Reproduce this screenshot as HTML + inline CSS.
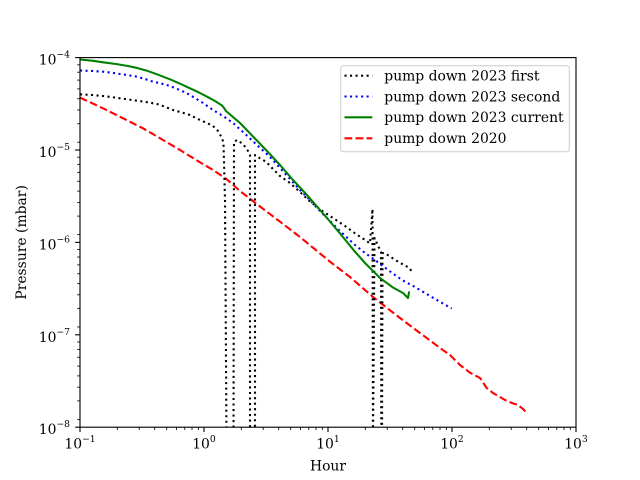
<!DOCTYPE html>
<html>
<head>
<meta charset="utf-8">
<style>
  html, body { margin: 0; padding: 0; background: #ffffff; }
  svg { display: block; }
  text { font-family: "DejaVu Serif", "Liberation Serif", serif; fill: #000; }
</style>
</head>
<body>
<svg width="640" height="480" viewBox="0 0 640 480" xmlns="http://www.w3.org/2000/svg">
  <rect x="0" y="0" width="640" height="480" fill="#ffffff"/>
  <defs>
    <clipPath id="ax">
      <rect x="80" y="57.6" width="496" height="369.6"/>
    </clipPath>
  </defs>

  <!-- data series -->
  <g clip-path="url(#ax)" fill="none" stroke-width="2.08" stroke-linejoin="round">
    <!-- red 2020 -->
    <polyline stroke="#ff0000" stroke-dasharray="7.7 3.33" stroke-linecap="butt"
      points="80,97.5 83,99 103,108.3 123,118.3 143,128.3 163,140 180,150 197,160.5 213,170 227,179.5 240,191 260,206.5 280,221.7 300,237 330,261.7 350,277 373,297 400,318 420,333 440,348 450,355 460,365 470,372.7 480,378 486.7,388 493,393 500,397 505,400 512,403 518,405 523,409 527,413"/>
    <!-- black first -->
    <polyline stroke="#000000" stroke-dasharray="2.08 3.44" stroke-linecap="butt"
      points="80,94.3 92,95 103,96 112,97.1 120,98.3 128,99.4 137,100.7 147,102.2 157,104 165,106.8 173,110 182,112.5 190,115 200,120 207,123 213,126 218,131 222,138 223.5,143 225,200 226.5,440 233.5,440 234,142 237,140 243,144 248,151 250,155 250,440 255,440 255,155 260,158.3 266,161.7 273,169 280,176 290,183 300,192 310,201.5 323,211.5 333,218 345,226 355,233.3 365,240 370,243.3 372.5,209 373,440 374.5,238 381,252 381.3,440 382,440 382.5,253 385,253.3 398,261.7 410,268.3 412,273"/>
    <!-- blue second -->
    <polyline stroke="#0000ff" stroke-dasharray="2.08 3.44" stroke-linecap="butt"
      points="80,70.5 92,71 103,71.7 112,72.7 120,74 128,75.2 137,76.7 145,79 153,81.7 162,83.7 170,86 178,89.3 187,93.3 195,98 203,103 213,110 223,116 233,123 243,132 257,145 270,157 280,168 290,179 300,190 310,200 317,208 330,221 340,231 355,245 365,253 375,260 388,270 402,280 415,287 430,296 451.7,308.5"/>
    <!-- green current -->
    <polyline stroke="#008000" stroke-linecap="square"
      points="80,59.5 92,60.7 103,62.3 116,64 128,66 138,68.2 147,70.7 158,74.7 170,79.3 180,83.7 190,88.3 199,92.5 207,96.7 215,101 222,105.5 224,108 226,111 240,123 253,136.5 267,151 280,165 293,180 307,195 327,218 340,233.5 355,251.7 365,263 372,270 380,278 393,287.5 403,293 408,298 409,292.5"/>
  </g>

  <!-- axes frame -->
  <rect x="80" y="57.6" width="496" height="369.6" fill="none" stroke="#000" stroke-width="1.11"/>

  <!-- x major ticks -->
  <g stroke="#000" stroke-width="1.11">
    <line x1="80" y1="427.2" x2="80" y2="432.1"/>
    <line x1="204" y1="427.2" x2="204" y2="432.1"/>
    <line x1="328" y1="427.2" x2="328" y2="432.1"/>
    <line x1="452" y1="427.2" x2="452" y2="432.1"/>
    <line x1="576" y1="427.2" x2="576" y2="432.1"/>
  </g>
  <!-- x minor ticks -->
  <g stroke="#000" stroke-width="0.83">
    <line x1="117.3" y1="427.2" x2="117.3" y2="430"/>
    <line x1="139.2" y1="427.2" x2="139.2" y2="430"/>
    <line x1="154.7" y1="427.2" x2="154.7" y2="430"/>
    <line x1="166.7" y1="427.2" x2="166.7" y2="430"/>
    <line x1="176.5" y1="427.2" x2="176.5" y2="430"/>
    <line x1="184.8" y1="427.2" x2="184.8" y2="430"/>
    <line x1="192.0" y1="427.2" x2="192.0" y2="430"/>
    <line x1="198.3" y1="427.2" x2="198.3" y2="430"/>

    <line x1="241.3" y1="427.2" x2="241.3" y2="430"/>
    <line x1="263.2" y1="427.2" x2="263.2" y2="430"/>
    <line x1="278.7" y1="427.2" x2="278.7" y2="430"/>
    <line x1="290.7" y1="427.2" x2="290.7" y2="430"/>
    <line x1="300.5" y1="427.2" x2="300.5" y2="430"/>
    <line x1="308.8" y1="427.2" x2="308.8" y2="430"/>
    <line x1="316.0" y1="427.2" x2="316.0" y2="430"/>
    <line x1="322.3" y1="427.2" x2="322.3" y2="430"/>

    <line x1="365.3" y1="427.2" x2="365.3" y2="430"/>
    <line x1="387.2" y1="427.2" x2="387.2" y2="430"/>
    <line x1="402.7" y1="427.2" x2="402.7" y2="430"/>
    <line x1="414.7" y1="427.2" x2="414.7" y2="430"/>
    <line x1="424.5" y1="427.2" x2="424.5" y2="430"/>
    <line x1="432.8" y1="427.2" x2="432.8" y2="430"/>
    <line x1="440.0" y1="427.2" x2="440.0" y2="430"/>
    <line x1="446.3" y1="427.2" x2="446.3" y2="430"/>

    <line x1="489.3" y1="427.2" x2="489.3" y2="430"/>
    <line x1="511.2" y1="427.2" x2="511.2" y2="430"/>
    <line x1="526.7" y1="427.2" x2="526.7" y2="430"/>
    <line x1="538.7" y1="427.2" x2="538.7" y2="430"/>
    <line x1="548.5" y1="427.2" x2="548.5" y2="430"/>
    <line x1="556.8" y1="427.2" x2="556.8" y2="430"/>
    <line x1="564.0" y1="427.2" x2="564.0" y2="430"/>
    <line x1="570.3" y1="427.2" x2="570.3" y2="430"/>
  </g>

  <!-- y major ticks -->
  <g stroke="#000" stroke-width="1.11">
    <line x1="75.1" y1="57.6" x2="80" y2="57.6"/>
    <line x1="75.1" y1="150" x2="80" y2="150"/>
    <line x1="75.1" y1="242.4" x2="80" y2="242.4"/>
    <line x1="75.1" y1="334.8" x2="80" y2="334.8"/>
    <line x1="75.1" y1="427.2" x2="80" y2="427.2"/>
  </g>
  <!-- y minor ticks -->
  <g stroke="#000" stroke-width="0.83">
    <line x1="77.2" y1="64.8" x2="80" y2="64.8"/>
    <line x1="77.2" y1="72.2" x2="80" y2="72.2"/>
    <line x1="77.2" y1="80.1" x2="80" y2="80.1"/>
    <line x1="77.2" y1="88.9" x2="80" y2="88.9"/>
    <line x1="77.2" y1="98.7" x2="80" y2="98.7"/>
    <line x1="77.2" y1="110.0" x2="80" y2="110.0"/>
    <line x1="77.2" y1="123.7" x2="80" y2="123.7"/>
    <line x1="77.2" y1="142.2" x2="80" y2="142.2"/>

    <line x1="77.2" y1="157.2" x2="80" y2="157.2"/>
    <line x1="77.2" y1="164.6" x2="80" y2="164.6"/>
    <line x1="77.2" y1="172.5" x2="80" y2="172.5"/>
    <line x1="77.2" y1="181.3" x2="80" y2="181.3"/>
    <line x1="77.2" y1="191.1" x2="80" y2="191.1"/>
    <line x1="77.2" y1="202.4" x2="80" y2="202.4"/>
    <line x1="77.2" y1="216.1" x2="80" y2="216.1"/>
    <line x1="77.2" y1="234.6" x2="80" y2="234.6"/>

    <line x1="77.2" y1="249.6" x2="80" y2="249.6"/>
    <line x1="77.2" y1="257.0" x2="80" y2="257.0"/>
    <line x1="77.2" y1="264.9" x2="80" y2="264.9"/>
    <line x1="77.2" y1="273.7" x2="80" y2="273.7"/>
    <line x1="77.2" y1="283.5" x2="80" y2="283.5"/>
    <line x1="77.2" y1="294.8" x2="80" y2="294.8"/>
    <line x1="77.2" y1="308.5" x2="80" y2="308.5"/>
    <line x1="77.2" y1="327.0" x2="80" y2="327.0"/>

    <line x1="77.2" y1="342.0" x2="80" y2="342.0"/>
    <line x1="77.2" y1="349.4" x2="80" y2="349.4"/>
    <line x1="77.2" y1="357.3" x2="80" y2="357.3"/>
    <line x1="77.2" y1="366.1" x2="80" y2="366.1"/>
    <line x1="77.2" y1="375.9" x2="80" y2="375.9"/>
    <line x1="77.2" y1="387.2" x2="80" y2="387.2"/>
    <line x1="77.2" y1="400.9" x2="80" y2="400.9"/>
    <line x1="77.2" y1="419.4" x2="80" y2="419.4"/>
  </g>

  <!-- x tick labels -->
  <g font-size="13.9" text-anchor="middle">
    <text x="80" y="448.5">10<tspan dy="-6.5" font-size="9.2">−1</tspan></text>
    <text x="204" y="448.5">10<tspan dy="-6.5" font-size="9.2">0</tspan></text>
    <text x="328" y="448.5">10<tspan dy="-6.5" font-size="9.2">1</tspan></text>
    <text x="452" y="448.5">10<tspan dy="-6.5" font-size="9.2">2</tspan></text>
    <text x="576" y="448.5">10<tspan dy="-6.5" font-size="9.2">3</tspan></text>
  </g>

  <!-- y tick labels -->
  <g font-size="13.9" text-anchor="end">
    <text x="70" y="64.6">10<tspan dy="-7" font-size="9.2">−4</tspan></text>
    <text x="70" y="157">10<tspan dy="-7" font-size="9.2">−5</tspan></text>
    <text x="70" y="249.4">10<tspan dy="-7" font-size="9.2">−6</tspan></text>
    <text x="70" y="341.8">10<tspan dy="-7" font-size="9.2">−7</tspan></text>
    <text x="70" y="434.2">10<tspan dy="-7" font-size="9.2">−8</tspan></text>
  </g>

  <!-- axis labels -->
  <text x="328" y="470.5" font-size="13.9" text-anchor="middle">Hour</text>
  <text transform="translate(26,242.4) rotate(-90)" font-size="13.9" text-anchor="middle">Pressure (mbar)</text>

  <!-- legend -->
  <rect x="340.7" y="65.7" width="228.6" height="86" rx="2.8" ry="2.8" fill="#ffffff" fill-opacity="0.8" stroke="#cccccc" stroke-width="1"/>
  <g fill="none" stroke-width="2.08">
    <line x1="344.5" y1="75.7" x2="372.3" y2="75.7" stroke="#000000" stroke-dasharray="2.08 3.44"/>
    <line x1="344.5" y1="96.5" x2="372.3" y2="96.5" stroke="#0000ff" stroke-dasharray="2.08 3.44"/>
    <line x1="344.5" y1="117.3" x2="372.3" y2="117.3" stroke="#008000"/>
    <line x1="344.5" y1="138.3" x2="372.3" y2="138.3" stroke="#ff0000" stroke-dasharray="7.7 3.33"/>
  </g>
  <g font-size="13.9">
    <text x="384.3" y="80.5">pump down 2023 first</text>
    <text x="384.3" y="101.3">pump down 2023 second</text>
    <text x="384.3" y="122.1">pump down 2023 current</text>
    <text x="384.3" y="143">pump down 2020</text>
  </g>
</svg>
</body>
</html>
